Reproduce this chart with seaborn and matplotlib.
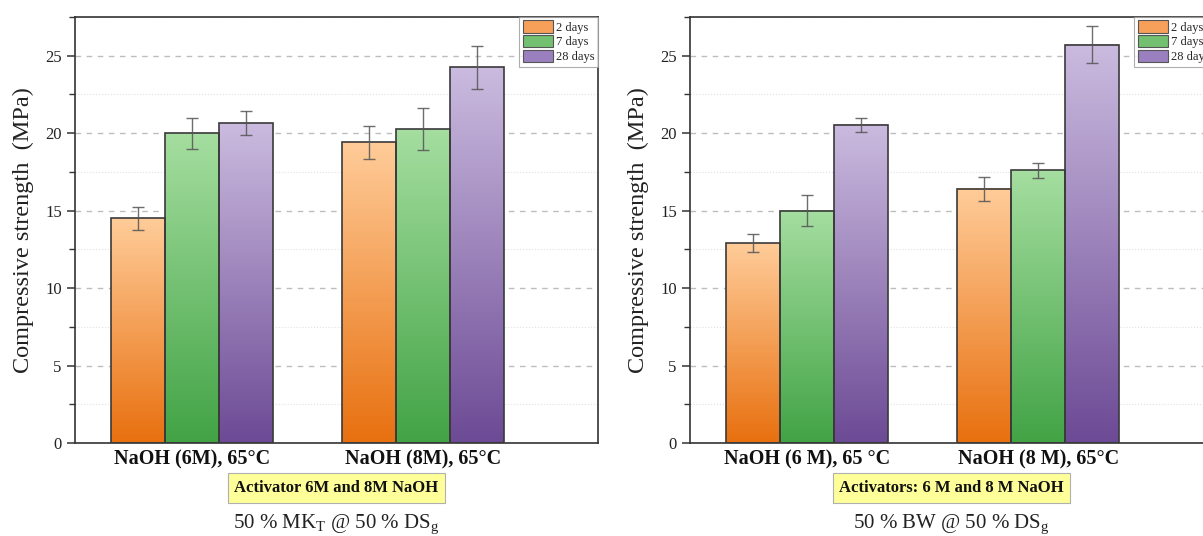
import numpy as np
import pandas as pd
import matplotlib
matplotlib.use("Agg")
import matplotlib.pyplot as plt
import seaborn as sns
from matplotlib.colors import LinearSegmentedColormap
from matplotlib.patches import Patch
from matplotlib.ticker import MultipleLocator

# Curing ages (hue levels)
ages = ["2 days", "7 days", "28 days"]

# Left panel: 50 % MK_T @ 50 % DS_g
mk_groups = ["NaOH (6M), 65°C", "NaOH (8M), 65°C"]
mk_2d = [14.5, 19.4]
mk_7d = [20.0, 20.25]
mk_28d = [20.65, 24.25]
mk_2d_sd = [0.75, 1.05]
mk_7d_sd = [1.0, 1.35]
mk_28d_sd = [0.75, 1.4]

# Right panel: 50 % BW @ 50 % DS_g
bw_groups = ["NaOH (6 M), 65 °C", "NaOH (8 M), 65°C"]
bw_2d = [12.9, 16.4]
bw_7d = [15.0, 17.6]
bw_28d = [20.55, 25.7]
bw_2d_sd = [0.57, 0.8]
bw_7d_sd = [1.0, 0.5]
bw_28d_sd = [0.45, 1.2]

# (bottom, top) colours of the vertical gradient for each age
grad_colors = [("#E8700F", "#FFCC99"), ("#42A345", "#A5DEA0"), ("#6C4A95", "#CBBBDF")]
mid_colors = ["#F7A05A", "#72C070", "#9A80BE"]
edge = "#3a3a3a"

sns.set_theme(style="white")
plt.rcParams["font.family"] = ["Liberation Serif", "DejaVu Serif"]
plt.rcParams["mathtext.fontset"] = "custom"
plt.rcParams["mathtext.rm"] = "Liberation Serif"
plt.rcParams["mathtext.it"] = "Liberation Serif:italic"

fig = plt.figure(figsize=(12.03, 5.36), dpi=100)
ax_w = 523 / 1203
ax_h = 426 / 536
ax_b = 93 / 536
axL = fig.add_axes([75 / 1203, ax_b, ax_w, ax_h])
axR = fig.add_axes([690 / 1203, ax_b, ax_w, ax_h])


def draw_panel(ax, groups, vals, sds, activator, title):
    df = pd.DataFrame({
        "group": [g for _ in ages for g in groups],
        "age": [a for a in ages for _ in groups],
        "strength": [v for series in vals for v in series],
    })
    sns.barplot(data=df, x="group", y="strength", hue="age", order=groups,
                hue_order=ages, width=0.7, errorbar=None, palette=mid_colors,
                edgecolor=edge, linewidth=1.2, legend=False, ax=ax)

    grad = np.linspace(0, 1, 256).reshape(-1, 1)
    bar_sets = list(ax.containers)
    for i, cont in enumerate(bar_sets):
        cmap = LinearSegmentedColormap.from_list(f"g{i}", list(grad_colors[i]))
        xs = []
        for p in cont.patches:
            x, w, h = p.get_x(), p.get_width(), p.get_height()
            ax.imshow(grad, extent=[x, x + w, 0, h], origin="lower", cmap=cmap,
                      aspect="auto", zorder=2, interpolation="bicubic")
            p.set_facecolor("none")
            p.set_zorder(3)
            xs.append(x + w / 2)
        ax.errorbar(xs, vals[i], yerr=sds[i], fmt="none", ecolor="#555555",
                    elinewidth=1.0, capsize=4, capthick=1.0, alpha=0.85, zorder=4)

    ax.set_xlim(-0.507, 1.757)
    ax.set_ylim(0, 27.5)
    ax.yaxis.set_major_locator(MultipleLocator(5))
    ax.yaxis.set_minor_locator(MultipleLocator(2.5))
    ax.grid(which="major", axis="y", ls=(0, (4, 4)), color="#bdbdbd", lw=1.0)
    ax.grid(which="minor", axis="y", ls=":", color="#e2e2e2", lw=0.8)
    ax.set_axisbelow(True)
    for s in ax.spines.values():
        s.set_visible(True)
        s.set_color("#333333")
        s.set_linewidth(1.2)
    ax.tick_params(axis="y", which="major", direction="out", length=6, width=1.1,
                   color="#333333", labelsize=12, labelcolor="#222222", left=True)
    ax.tick_params(axis="y", which="minor", direction="out", length=4, width=1.0,
                   color="#333333", left=True)
    ax.tick_params(axis="x", length=0, pad=5)
    for lbl in ax.get_xticklabels():
        lbl.set_fontweight("bold")
        lbl.set_fontsize(14.5)
        lbl.set_color("#111111")
    ax.set_xlabel("")
    ax.set_ylabel("Compressive strength  (MPa)", fontsize=17.5, color="#222222", labelpad=8)

    handles = [Patch(facecolor=c, edgecolor="#555555", lw=0.8) for c in mid_colors]
    leg = ax.legend(handles, ages, loc="upper right", borderaxespad=0.0, fontsize=9,
                    frameon=True, fancybox=False, handlelength=2.4, handleheight=1.15,
                    labelspacing=0.12, handletextpad=0.3, borderpad=0.25)
    leg.get_frame().set_edgecolor("#999999")
    leg.get_frame().set_linewidth(0.8)

    ax.text(0.5, -0.106, activator, transform=ax.transAxes, ha="center", va="center",
            fontsize=12, fontweight="bold", color="#111111",
            bbox=dict(boxstyle="square,pad=0.4", fc="#FFFF99", ec="#b0b0b0", lw=0.8))
    ax.text(0.5, -0.19, title, transform=ax.transAxes, ha="center", va="center",
            fontsize=15, color="#222222")


draw_panel(axL, mk_groups, [mk_2d, mk_7d, mk_28d], [mk_2d_sd, mk_7d_sd, mk_28d_sd],
           "Activator 6M and 8M NaOH", r"50 % MK$_{\mathrm{T}}$ @ 50 % DS$_{\mathrm{g}}$")
draw_panel(axR, bw_groups, [bw_2d, bw_7d, bw_28d], [bw_2d_sd, bw_7d_sd, bw_28d_sd],
           "Activators: 6 M and 8 M NaOH", r"50 % BW @ 50 % DS$_{\mathrm{g}}$")

fig.savefig("out.png", dpi=100)
